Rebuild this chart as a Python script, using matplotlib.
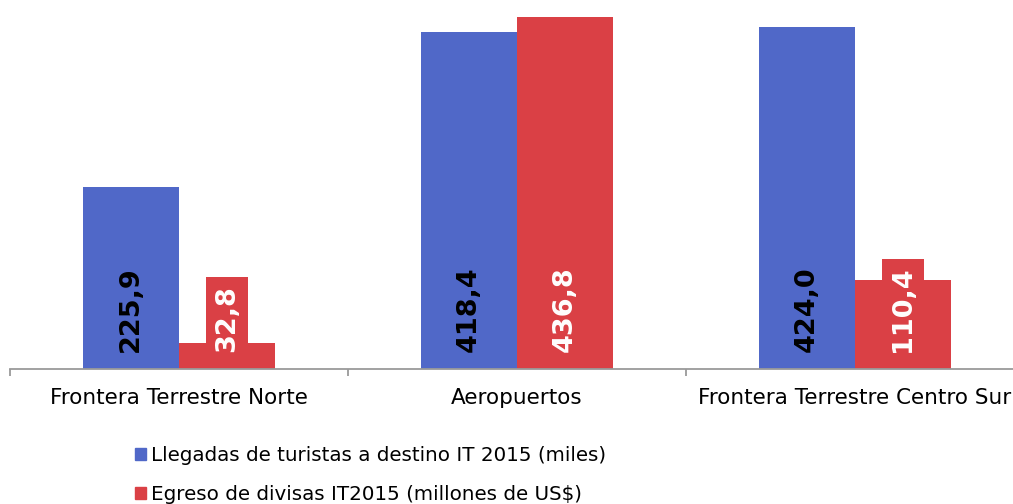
import numpy as np
import matplotlib
matplotlib.use('Agg')
import matplotlib.pyplot as plt
from matplotlib.patches import Patch

# Datos
categorias = ['Frontera Terrestre Norte', 'Aeropuertos', 'Frontera Terrestre Centro Sur']
llegadas = [225.9, 418.4, 424.0]
egreso = [32.8, 436.8, 110.4]
nombres = ['Llegadas de turistas a destino IT 2015 (miles)',
           'Egreso de divisas IT2015 (millones de US$)']

c_blue = '#5068c8'
c_red = '#da4045'

plt.rcParams['font.family'] = 'DejaVu Sans'

fig = plt.figure(figsize=(10.13, 5.04), dpi=100)
ax = fig.add_axes([10 / 1013, 135 / 504, 1014 / 1013, 369 / 504])

x = np.arange(len(categorias))
w = 0.284
ax.bar(x - w / 2, llegadas, width=w, color=c_blue)
ax.bar(x + w / 2, egreso, width=w, color=c_red)

# etiquetas de valor
for xi, v in zip(x, llegadas):
    ax.annotate(('%.1f' % v).replace('.', ','), xy=(xi - w / 2, 0), xytext=(0, 12),
                textcoords='offset points', rotation=90, ha='center', va='bottom',
                fontsize=19.5, fontweight='bold', color='black')
for xi, v in zip(x, egreso):
    ax.annotate(('%.1f' % v).replace('.', ','), xy=(xi + w / 2, 0), xytext=(0, 12),
                textcoords='offset points', rotation=90, ha='center', va='bottom',
                fontsize=19.5, fontweight='bold', color='white',
                bbox=dict(boxstyle='square,pad=0.3', fc=c_red, ec='none'))

ax.set_xlim(-0.5, 2.5)
ax.set_ylim(0, 457.8)
ax.set_yticks([])
for s in ['top', 'right', 'left']:
    ax.spines[s].set_visible(False)
ax.spines['bottom'].set_color('#9a9a9a')
ax.spines['bottom'].set_linewidth(1.3)

ax.set_xticks([-0.5, 0.5, 1.5, 2.5])
ax.set_xticklabels([])
ax.tick_params(axis='x', which='major', direction='out', length=5, width=1.3, color='#9a9a9a')
ax.set_xticks(x, minor=True)
ax.set_xticklabels(categorias, minor=True, fontsize=15.5)
ax.tick_params(axis='x', which='minor', length=0, pad=14)

handles = [Patch(color=c_blue), Patch(color=c_red)]
fig.legend(handles, nombres, loc='upper left', bbox_to_anchor=(125 / 1013, 1 - 436 / 504),
           frameon=False, fontsize=14.3, handlelength=0.55, handleheight=0.55,
           handletextpad=0.25, labelspacing=1.0, borderpad=0)

fig.savefig('out.png', dpi=100)
